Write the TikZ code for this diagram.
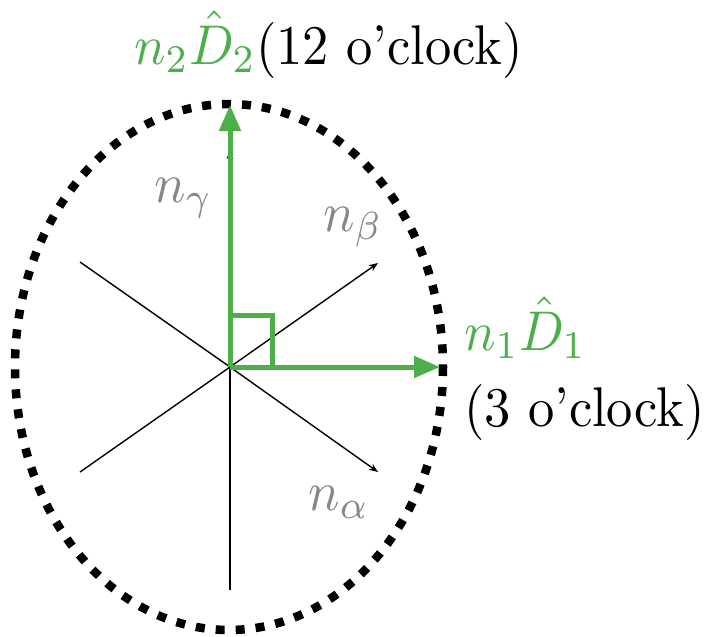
\documentclass[tikz,border=0pt]{standalone}
\usepackage{amsmath}
\usepackage{xcolor}
\usepackage{tikz}
\usetikzlibrary{arrows.meta,positioning}
\definecolor{dirgreen}{RGB}{77,175,74}
\definecolor{labgray}{RGB}{135,135,135}
\tikzset{
  axis/.style={draw=black, line width=1.4pt},
  axarr/.style={axis, -{Stealth[length=9pt,width=7pt]}},
  dirarr/.style={draw=dirgreen, line width=5pt, -{Triangle[length=26pt,width=21pt]}},
  rangle/.style={draw=dirgreen, line width=5pt},
  rim/.style={draw=black, line width=8.5pt, dash pattern=on 9pt off 11pt},
  lab/.style={inner sep=0pt, anchor=base west, xscale=5.25, yscale=5.6, transform shape},
  glab/.style={lab, text=labgray}
}

\begin{document}
\begin{tikzpicture}[x=1pt,y=-1pt]
  \useasboundingbox (0,0) rectangle (707,637);
  \coordinate (o) at (230,367);
  \coordinate (up) at (230,150);
  \coordinate (down) at (230,590);
  \coordinate (ur) at (378,263);
  \coordinate (lr) at (378,472);
  \coordinate (ul) at (80,262);
  \coordinate (ll) at (80,472);
  \coordinate (d2) at (230,105);
  \coordinate (d1) at (440,367);
  % dotted rim
  \draw[rim] (229,367) ellipse [x radius=214, y radius=263];
  % thin axes
  \draw[axarr] (o) -- (up);
  \draw[axarr] (o) -- (ur);
  \draw[axarr] (o) -- (lr);
  \draw[axis] (o) -- (down);
  \draw[axis] (o) -- (ul);
  \draw[axis] (o) -- (ll);
  % principal directions
  \draw[rangle] (230,315) -| (272,367);
  \draw[dirarr] (o) -- (d2);
  \draw[dirarr] (o) -- (d1);
  \node[glab] (ngam) at (153,202) {$n_\gamma$};
  \node[glab] (nbet) at (322,231) {$n_\beta$};
  \node[glab] (nalp) at (307,510) {$n_\alpha$};
  \node[lab] (top) at (133,64) {\textcolor{dirgreen}{$n_2\hat{D}_2$}(12 o'clock)};
  \node[lab, text=dirgreen] (right) at (463,350) {$n_1\hat{D}_1$};
  \node[lab] (rightsub) at (463,426) {(3 o'clock)};
\end{tikzpicture}
\end{document}
